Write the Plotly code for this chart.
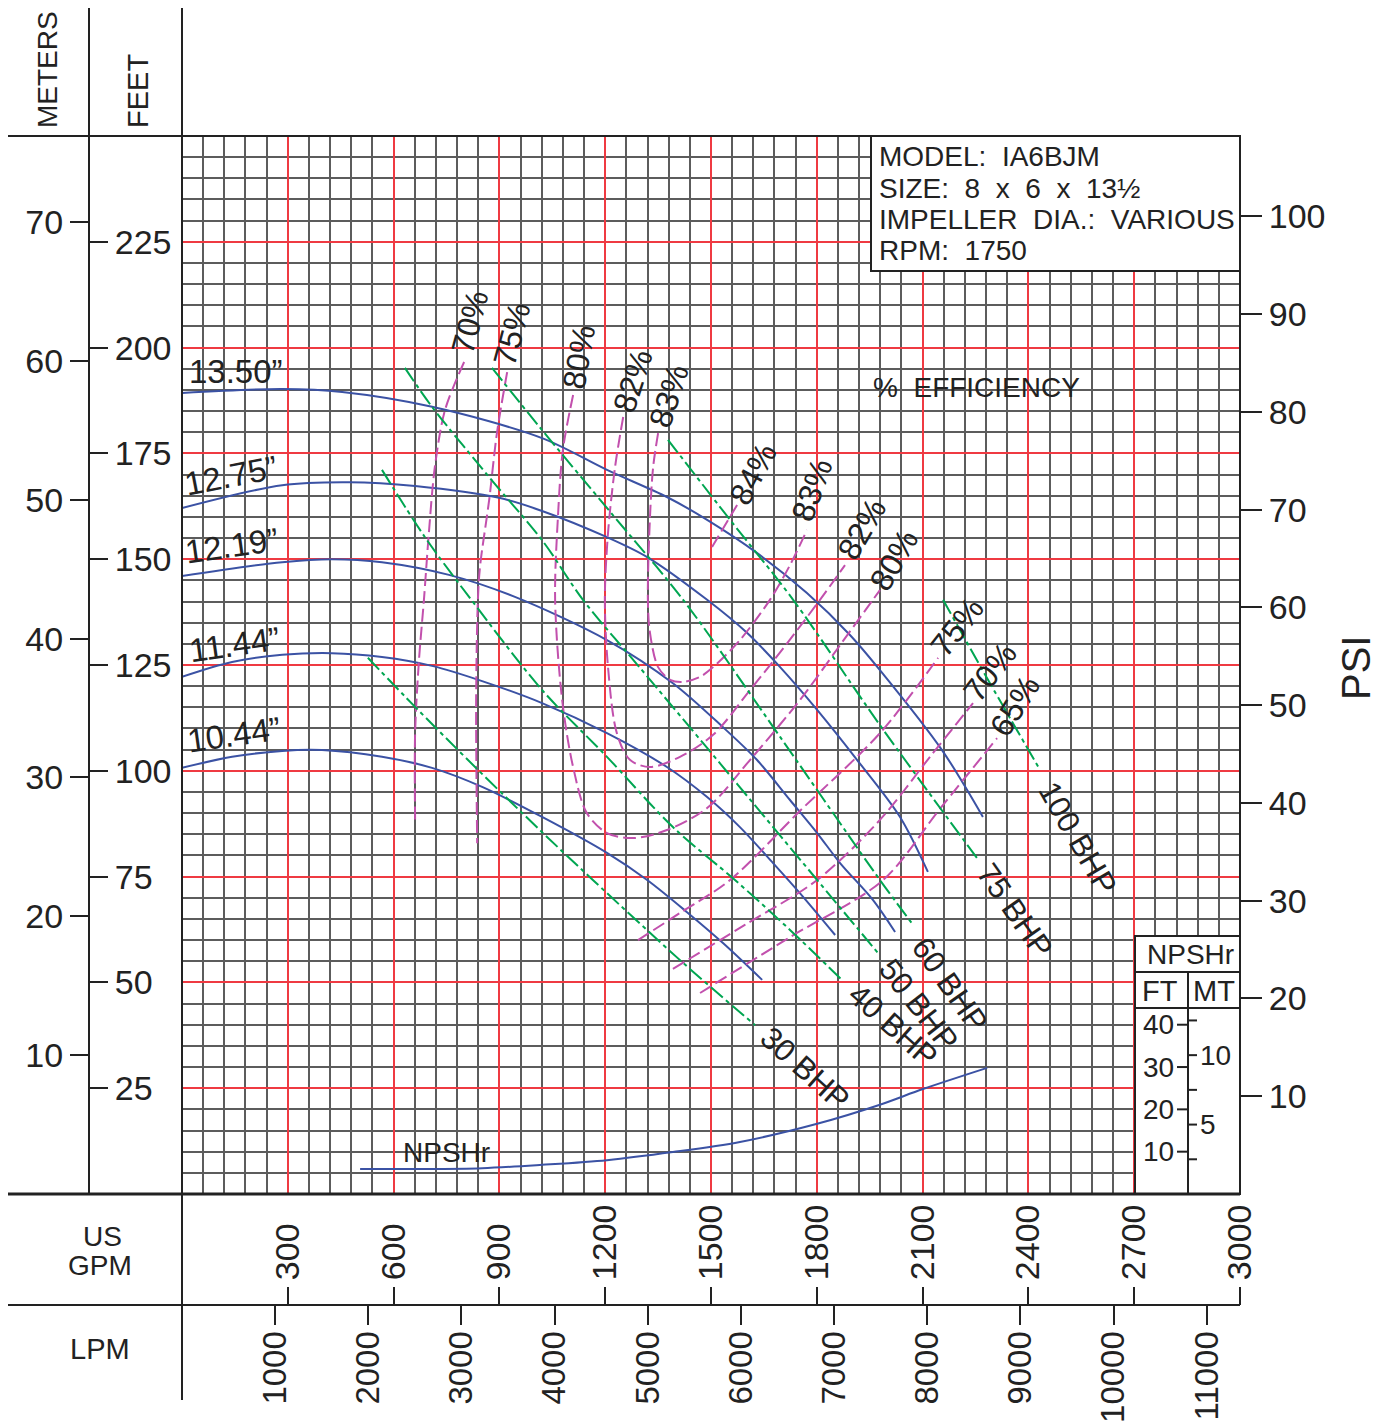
import plotly.graph_objects as go

# ---------------------------------------------------------------- data
gpm_ticks = [300, 600, 900, 1200, 1500, 1800, 2100, 2400, 2700, 3000]
lpm_ticks = [1000, 2000, 3000, 4000, 5000, 6000, 7000, 8000, 9000, 10000, 11000]
feet_ticks = [25, 50, 75, 100, 125, 150, 175, 200, 225]
meter_ticks = [10, 20, 30, 40, 50, 60, 70]
psi_ticks = [10, 20, 30, 40, 50, 60, 70, 80, 90, 100]
npsh_ft_ticks = [10, 20, 30, 40]
npsh_m_ticks = [2.5, 5, 7.5, 10, 12.5]
npsh_m_labels = ["", "5", "", "10", ""]

imp_names = ["13.50\u201d", "12.75\u201d", "12.19\u201d", "11.44\u201d", "10.44\u201d"]
imp_1350_gpm = [0, 284, 454, 709, 1021, 1205, 1375, 1489, 1630, 1772, 1894, 1979, 2155, 2271]
imp_1350_ft = [189.3, 190.2, 189.5, 186.0, 178.6, 171.1, 164.7, 159.3, 151.5, 142.0, 132.1, 123.8, 104.9, 89.1]
imp_1275_gpm = [0, 284, 474, 661, 899, 1021, 1205, 1319, 1489, 1602, 1696, 1801, 1914, 2036, 2115]
imp_1275_ft = [162.1, 167.5, 168.2, 167.3, 164.5, 161.4, 155.2, 150.5, 140.4, 132.6, 124.5, 114.4, 102.6, 89.1, 76.1]
imp_1219_gpm = [0, 284, 425, 567, 757, 944, 1205, 1392, 1534, 1630, 1724, 1801, 1866, 1959, 2022]
imp_1219_ft = [146.0, 149.3, 150.0, 149.3, 146.3, 141.1, 130.9, 120.7, 110.3, 102.6, 93.1, 85.3, 78.2, 69.5, 61.9]
imp_1144_gpm = [0, 142, 284, 425, 567, 709, 851, 1021, 1205, 1375, 1489, 1582, 1676, 1752, 1852]
imp_1144_ft = [122.2, 125.7, 127.4, 127.8, 126.9, 124.8, 121.2, 116.0, 108.9, 100.9, 93.8, 86.7, 78.2, 71.1, 61.2]
imp_1044_gpm = [0, 142, 284, 397, 567, 709, 851, 1021, 1205, 1319, 1432, 1534, 1645]
imp_1044_ft = [100.7, 103.3, 104.7, 104.9, 103.3, 100.7, 96.2, 89.1, 80.6, 74.2, 66.6, 59.3, 50.6]

npshr_gpm = [505, 661, 851, 1021, 1205, 1392, 1582, 1801, 1979, 2101, 2283]
npshr_ft = [5.9, 5.9, 6.1, 6.9, 8.0, 9.9, 12.3, 16.6, 21.1, 24.8, 29.8]

eff70L_gpm = [800, 746, 717, 700, 686, 672, 661, 661]
eff70L_ft = [196.6, 185.3, 171.8, 156.2, 140.4, 126.2, 108.9, 88.4]
eff75L_gpm = [922, 893, 871, 845, 839, 834, 837]
eff75L_ft = [194.2, 179.8, 164.0, 148.2, 140.4, 116.7, 82.9]
eff80_gpm = [1109, 1080, 1066, 1058, 1078, 1109, 1148, 1205, 1279, 1375, 1489, 1611, 1752, 1866, 1959, 1979]
eff80_ft = [188.8, 175.8, 160.0, 140.4, 116.7, 100.9, 90.0, 85.3, 84.1, 86.0, 91.2, 102.6, 116.7, 129.7, 140.4, 142.7]
eff82_gpm = [1251, 1228, 1208, 1199, 1208, 1233, 1270, 1327, 1412, 1506, 1611, 1710, 1809, 1880]
eff82_ft = [183.6, 171.8, 156.2, 140.4, 124.5, 108.9, 102.6, 100.9, 103.3, 108.5, 119.1, 129.5, 140.4, 148.6]
eff83_gpm = [1350, 1336, 1327, 1321, 1327, 1350, 1384, 1421, 1469, 1506, 1582, 1667, 1724, 1772]
eff83_ft = [179.8, 171.8, 160.0, 140.4, 132.6, 124.5, 121.5, 121.0, 122.2, 124.5, 130.9, 140.4, 148.6, 156.9]
eff84_gpm = [1503, 1574]
eff84_ft = [152.9, 162.8]
eff75R_gpm = [1293, 1412, 1554, 1752, 1979, 2144]
eff75R_ft = [60.0, 66.4, 74.2, 90.5, 108.9, 126.7]
eff70R_gpm = [1392, 1596, 1801, 1979, 2121, 2243]
eff70R_ft = [53.2, 63.6, 74.2, 88.4, 103.3, 116.0]
eff65R_gpm = [1469, 1724, 1988, 2149, 2311]
eff65R_ft = [47.5, 60.7, 74.2, 91.0, 107.7]

bhp_names = ["30 BHP", "40 BHP", "50 BHP", "60 BHP", "75 BHP", "100 BHP"]
bhp30_gpm = [527, 661, 831, 1021, 1165, 1421, 1625]
bhp30_ft = [126.7, 115.1, 100.9, 85.5, 74.2, 54.6, 39.9]
bhp40_gpm = [567, 689, 814, 1021, 1205, 1392, 1568, 1724, 1871]
bhp40_ft = [171.1, 155.2, 141.1, 119.1, 103.3, 86.7, 74.2, 62.4, 50.6]
bhp50_gpm = [632, 709, 873, 1021, 1137, 1299, 1489, 1676, 1801, 1974]
bhp50_ft = [195.2, 186.0, 169.2, 154.5, 140.4, 124.3, 105.4, 86.7, 74.2, 56.9]
bhp60_gpm = [879, 1021, 1214, 1421, 1696, 1979, 2073]
bhp60_ft = [195.2, 180.5, 161.2, 140.4, 108.0, 74.2, 63.6]
bhp75_gpm = [1378, 1554, 1733, 1979, 2254]
bhp75_ft = [178.2, 159.3, 140.4, 110.8, 79.4]
bhp100_gpm = [2158, 2291, 2433]
bhp100_ft = [140.4, 120.7, 100.2]

info_lines = ["MODEL:\u00a0\u00a0IA6BJM", "SIZE:\u00a0\u00a08\u00a0\u00a0x\u00a0\u00a06\u00a0\u00a0x\u00a0\u00a013\u00bd",
              "IMPELLER\u00a0\u00a0DIA.:\u00a0\u00a0VARIOUS", "RPM:\u00a0\u00a01750"]

# ---------------------------------------------------------------- styling
OFF = 8                      # page body margin of the html page
W, H = 1387 - OFF, 1428 - OFF
X0, X1, Y0, Y1 = 182, 1240, 136, 1194
FONT = "Liberation Sans, Arial, sans-serif"
INK = "#222222"
BLUE = "#3b52a4"
MAG = "#c250ad"
GREEN = "#00a651"
RED = "#ef3a42"
GRID = "#5c5c5c"


def px(x):
    return (x - OFF) / W


def py(y):
    return 1 - (y - OFF) / H


fig = go.Figure()

# impeller curves + NPSHr
for g, f in [(imp_1350_gpm, imp_1350_ft), (imp_1275_gpm, imp_1275_ft), (imp_1219_gpm, imp_1219_ft),
             (imp_1144_gpm, imp_1144_ft), (imp_1044_gpm, imp_1044_ft), (npshr_gpm, npshr_ft)]:
    fig.add_trace(go.Scatter(x=g, y=f, mode="lines", hoverinfo="skip",
                             line=dict(color=BLUE, width=2, shape="spline", smoothing=0.9)))

# efficiency curves
for g, f in [(eff70L_gpm, eff70L_ft), (eff75L_gpm, eff75L_ft), (eff80_gpm, eff80_ft), (eff82_gpm, eff82_ft),
             (eff83_gpm, eff83_ft), (eff84_gpm, eff84_ft), (eff75R_gpm, eff75R_ft), (eff70R_gpm, eff70R_ft),
             (eff65R_gpm, eff65R_ft)]:
    fig.add_trace(go.Scatter(x=g, y=f, mode="lines", hoverinfo="skip",
                             line=dict(color=MAG, width=2, shape="spline", smoothing=0.9, dash="13px,5px")))

# BHP lines
for g, f in [(bhp30_gpm, bhp30_ft), (bhp40_gpm, bhp40_ft), (bhp50_gpm, bhp50_ft), (bhp60_gpm, bhp60_ft),
             (bhp75_gpm, bhp75_ft), (bhp100_gpm, bhp100_ft)]:
    fig.add_trace(go.Scatter(x=g, y=f, mode="lines", hoverinfo="skip",
                             line=dict(color=GREEN, width=2, shape="spline", smoothing=0.9,
                                       dash="16px,4px,4px,4px")))

# empty traces so that secondary axes are attached to subplots
for xa, ya in [("x2", "y"), ("x3", "y"), ("x", "y2"), ("x", "y3"), ("x", "y4")]:
    fig.add_trace(go.Scatter(x=[], y=[], xaxis=xa, yaxis=ya, mode="lines", hoverinfo="skip"))

dom_x = [px(X0), px(X1)]
dom_y = [py(Y1), py(Y0)]
tickfont = dict(family=FONT, size=34, color=INK)
common = dict(showgrid=False, zeroline=False, showline=False, automargin=False, fixedrange=True,
              ticks="outside", tickwidth=2, tickcolor=INK, tickfont=tickfont)
common_lpm = dict(common, tickfont=dict(family=FONT, size=33, color=INK), ticklabelstandoff=-7)

fig.update_layout(
    width=W, height=H, autosize=False, margin=dict(l=0, r=0, t=0, b=0),
    paper_bgcolor="white", plot_bgcolor="white", showlegend=False,
    font=dict(family=FONT, color=INK),
    xaxis=dict(domain=dom_x, range=[0, 3000], tick0=0, dtick=300, showgrid=True, gridcolor=RED, gridwidth=2,
               minor=dict(tick0=0, dtick=60, showgrid=True, gridcolor=GRID, gridwidth=2),
               showticklabels=False, ticks="", zeroline=False, showline=False, automargin=False, fixedrange=True),
    yaxis=dict(domain=dom_y, range=[0, 250], tick0=0, dtick=25, showgrid=True, gridcolor=RED, gridwidth=2,
               minor=dict(tick0=0, dtick=5, showgrid=True, gridcolor=GRID, gridwidth=2),
               showticklabels=False, ticks="", zeroline=False, showline=False, automargin=False, fixedrange=True),
    xaxis2=dict(overlaying="x", anchor="free", position=py(1305), side="top", domain=dom_x, range=[0, 3000],
                tickmode="array", tickvals=gpm_ticks, ticktext=[str(v) for v in gpm_ticks],
                ticklen=18, tickangle=-90, **common),
    xaxis3=dict(overlaying="x", anchor="free", position=py(1305), side="bottom", domain=dom_x,
                range=[0, 3000 * 3.785411784], tickmode="array", tickvals=lpm_ticks,
                ticktext=[str(v) for v in lpm_ticks], ticklen=19, tickangle=-90, **common_lpm),
    yaxis2=dict(overlaying="y", anchor="free", position=px(89), side="left", domain=dom_y, range=[0, 250 * 0.3048],
                tickmode="array", tickvals=meter_ticks, ticktext=[str(v) for v in meter_ticks], ticklen=19, **common),
    yaxis3=dict(overlaying="y", anchor="free", position=px(89), side="right", domain=dom_y, range=[0, 250],
                tickmode="array", tickvals=feet_ticks, ticktext=[str(v) for v in feet_ticks], ticklen=18, **common),
    yaxis4=dict(overlaying="y", anchor="free", position=px(1240), side="right", domain=dom_y,
                range=[0, 250 / 2.31], tickmode="array", tickvals=psi_ticks, ticktext=[str(v) for v in psi_ticks],
                ticklen=21, **common),
)

shapes = []


def pline(x0, y0, x1, y1, w=2, yref="paper"):
    shapes.append(dict(type="line", xref="paper", yref=yref, x0=px(x0), x1=px(x1),
                       y0=py(y0) if yref == "paper" else y0, y1=py(y1) if yref == "paper" else y1,
                       line=dict(color=INK, width=w), layer="above"))


# white boxes (info box, NPSHr box)
for (a, b, c, d) in [(871, 136, 1240, 271), (1135, 936, 1240, 1194)]:
    shapes.append(dict(type="rect", xref="paper", yref="paper", x0=px(a), x1=px(c), y0=py(d), y1=py(b),
                       fillcolor="white", line=dict(color=INK, width=2), layer="above"))

# frame lines
pline(X0, Y0, X1, Y0)
pline(X1, Y0, X1, Y1)
pline(7, Y0, X0, Y0)
pline(7, Y1, X1, Y1, w=3)
pline(7, 1305, X1, 1305)
pline(89, 8, 89, Y1)
pline(X0, 8, X0, 1400)
# NPSHr box internals
pline(1135, 972, 1240, 972)
pline(1135, 1008, 1240, 1008)
pline(1188, 972, 1188, 1194)
for v in npsh_ft_ticks:
    pline(1177, v, 1188, v, yref="y")
for v in npsh_m_ticks:
    pline(1188, v / 0.3048, 1197, v / 0.3048, yref="y")

fig.update_layout(shapes=shapes)


def ann(text, x, y, size, angle=0, xanchor="center", yanchor="middle", yref="paper"):
    fig.add_annotation(text=text, x=px(x), y=py(y) if yref == "paper" else y, xref="paper", yref=yref,
                       showarrow=False, textangle=angle, xanchor=xanchor, yanchor=yanchor, borderpad=0,
                       font=dict(family=FONT, size=size, color=INK))


# headers
ann("METERS", 48, 70, 28, -90)
ann("FEET", 138, 91, 29, -90)
ann("US", 102, 1236, 28)
ann("GPM", 100, 1265, 28)
ann("LPM", 100, 1349, 29)
ann("PSI", 1356, 668, 40, -90)

# info box
for i, t in enumerate(info_lines):
    ann(t, 878, 157 + i * 31, 28, xanchor="left")

# NPSHr box
ann("NPSHr", 1190, 954, 28)
ann("FT", 1160, 991, 29)
ann("MT", 1214, 991, 29)
for v in npsh_ft_ticks:
    ann(str(v), 1175, v, 28, xanchor="right", yref="y")
for v, t in zip(npsh_m_ticks, npsh_m_labels):
    if t:
        ann(t, 1199, v / 0.3048, 28, xanchor="left", yref="y")

# curve labels
imp_label_pos = [(236, 371, 0), (231, 475, -11), (232, 546, -8), (234, 645, -8), (234, 734, -8)]
for t, (x, y, a) in zip(imp_names, imp_label_pos):
    ann(t, x, y, 33, a)
ann("NPSHr", 446, 1152, 28)
ann("%\u00a0\u00a0EFFICIENCY", 976, 388, 28)

eff_labels = ["70%", "75%", "80%", "82%", "83%", "84%", "83%", "82%", "80%", "75%", "70%", "65%"]
eff_label_pos = [(470, 322, -75), (512, 334, -75), (579, 357, -80), (633, 381, -72), (669, 396, -72),
                 (753, 474, -62), (812, 490, -70), (862, 529, -60), (894, 560, -60), (957, 627, -52),
                 (990, 672, -52), (1015, 706, -58)]
for t, (x, y, a) in zip(eff_labels, eff_label_pos):
    ann(t, x, y, 32, a)

bhp_label_pos = [(805, 1068, 42), (893, 1025, 42), (918, 1005, 52), (950, 984, 55), (1015, 910, 55),
                 (1078, 838, 60)]
for t, (x, y, a) in zip(bhp_names, bhp_label_pos):
    ann(t, x, y, 31, a)

fig.write_html("out.html")
